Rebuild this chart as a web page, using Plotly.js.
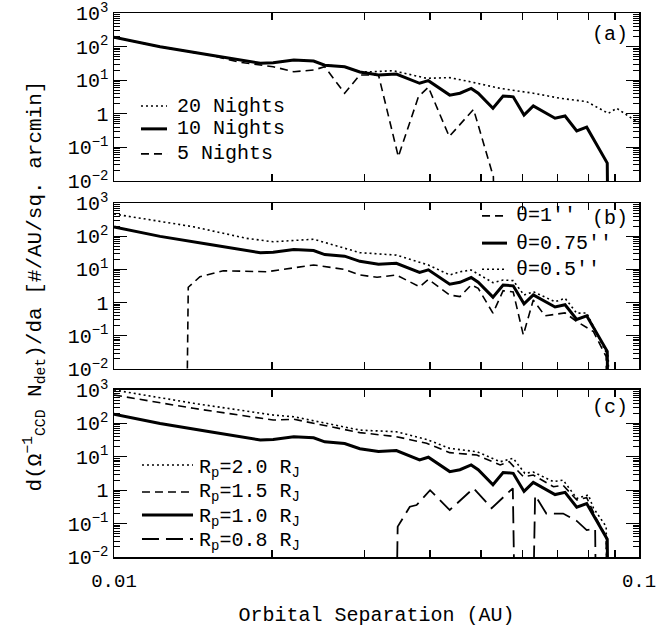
<!DOCTYPE html>
<html><head><meta charset="utf-8">
<script src="https://cdn.plot.ly/plotly-3.0.1.min.js"></script>
<style>body{margin:0;background:#fff}#chart{width:670px;height:629px}</style>
</head><body><div id="chart"></div>
<script>
// ---------- data (AU, #/AU/sq. arcmin); 0 = no detections ----------
const base10X = [0.01, 0.01224, 0.01523, 0.019, 0.0201, 0.022, 0.024, 0.0252, 0.0275, 0.0294, 0.0319, 0.0345, 0.0382, 0.0397, 0.0436, 0.0456, 0.0479, 0.0494, 0.0527, 0.0551, 0.0576, 0.0604, 0.0629, 0.0692, 0.0723, 0.0761, 0.0795, 0.087, 0.0895];
const base10Y = [189, 99, 56, 31.8, 33, 40, 37, 28, 25, 17.5, 14.3, 15.3, 8.1, 9.7, 3.6, 4.1, 5.7, 4.1, 1.46, 3.4, 3.2, 0.92, 1.71, 0.74, 0.86, 0.31, 0.40, 0.034, 0];

const n20X = [0.01, 0.01224, 0.01523, 0.019, 0.0201, 0.022, 0.024, 0.0252, 0.0275, 0.0294, 0.0312, 0.034, 0.0394, 0.0436, 0.0477, 0.0544, 0.0629, 0.0707, 0.0795, 0.0874, 0.0907, 0.0997];
const n20Y = [189, 99, 56, 31.8, 33, 40, 37, 28, 25, 17.5, 17.9, 19.2, 11.4, 11.9, 9.0, 5.7, 4.1, 2.9, 2.3, 1.03, 1.46, 0.54];

const n5X = [0.01, 0.01224, 0.01523, 0.01738, 0.019, 0.0201, 0.022, 0.024, 0.0252, 0.0275, 0.0294, 0.0319, 0.0348, 0.038, 0.0397, 0.0435, 0.0484, 0.0528, 0.0545];
const n5Y = [189, 99, 56, 34, 28.3, 25.2, 17.9, 20.1, 25.2, 4.07, 14.3, 14.3, 0.053, 3.2, 6.2, 0.21, 1.36, 0.0134, 0];

const th05X = [0.01, 0.01416, 0.0179, 0.0201, 0.024, 0.0294, 0.0345, 0.0382, 0.0397, 0.0436, 0.0456, 0.0479, 0.0527, 0.0551, 0.0576, 0.0604, 0.0629, 0.0692, 0.0723, 0.0761, 0.0795, 0.0874, 0.09];
const th05Y = [467, 193, 86, 68, 81, 32, 27, 17, 13.6, 6.8, 8.5, 9.6, 4.0, 4.8, 4.6, 1.69, 2.13, 1.06, 1.35, 0.48, 0.49, 0.0235, 0];

const th1X = [0.0134, 0.01385, 0.01458, 0.01615, 0.01954, 0.024, 0.0274, 0.0294, 0.0317, 0.0345, 0.0382, 0.0397, 0.0436, 0.0456, 0.0479, 0.0494, 0.0527, 0.0551, 0.0576, 0.0602, 0.0629, 0.0662, 0.0723, 0.0761, 0.0819, 0.0866, 0.089];
const th1Y = [0, 2.9, 6.0, 9.1, 8.5, 13.6, 10.1, 6.8, 5.8, 6.8, 3.0, 5.0, 1.69, 1.51, 3.4, 2.7, 0.48, 2.28, 2.1, 0.106, 1.2, 0.40, 0.49, 0.27, 0.133, 0.0235, 0];

const rp20X = [0.01, 0.01416, 0.0201, 0.022, 0.0294, 0.0345, 0.0394, 0.0436, 0.0491, 0.0544, 0.0576, 0.0606, 0.0629, 0.0687, 0.0717, 0.0761, 0.0801, 0.0819, 0.0866, 0.089];
const rp20Y = [1000, 400, 178, 158, 63, 56, 33, 17.9, 14.2, 7.1, 9.0, 3.2, 3.5, 1.8, 2.0, 0.57, 0.72, 0.29, 0.081, 0];

const rp15X = [0.01, 0.01416, 0.0201, 0.022, 0.0294, 0.0345, 0.0394, 0.0436, 0.0491, 0.0544, 0.0566, 0.0602, 0.0629, 0.0687, 0.0717, 0.0761, 0.0795, 0.0829, 0.0866, 0.089];
const rp15Y = [708, 283, 126, 133, 53, 40, 25.4, 13.3, 11.3, 5.7, 7.1, 2.54, 2.85, 1.27, 1.4, 0.51, 0.6, 0.144, 0.041, 0];

const rp08X = [0.0333, 0.0347, 0.0366, 0.0377, 0.04, 0.0436, 0.0484, 0.0524, 0.0575, 0.0602, 0.0634, 0.0666, 0.0717, 0.0761, 0.0795, 0.0825, 0.085];
const rp08Y = [0, 0.081, 0.32, 0.36, 1.0, 0.255, 1.14, 0.29, 1.14, 0, 0.7, 0.2, 0.2, 0.12, 0.064, 0.07, 0];

const xTickVals = [0.01, 0.02, 0.03, 0.04, 0.05, 0.06, 0.07, 0.08, 0.09, 0.1];
const xTickText = ['0.01', '', '', '', '', '', '', '', '', '0.1'];
const yTickVals = [0.01, 0.1, 1, 10, 100, 1000];
const yTickText = ['10<sup>\u22122</sup>', '10<sup>\u22121</sup>', '1', '10<sup>1</sup>', '10<sup>2</sup>', '10<sup>3</sup>'];

const legendA = ['20 Nights', '10 Nights', '5 Nights'];
const legendB = ['\u03b8=1\'\'', '\u03b8=0.75\'\'', '\u03b8=0.5\'\''];
const legendC = ['R<sub>p</sub>=2.0 R<sub>J</sub>', 'R<sub>p</sub>=1.5 R<sub>J</sub>', 'R<sub>p</sub>=1.0 R<sub>J</sub>', 'R<sub>p</sub>=0.8 R<sub>J</sub>'];
const panelLabels = ['(a)', '(b)', '(c)'];
const xTitle = 'Orbital Separation (AU)';
const yTitle = 'd(\u03a9<sup>\u22121</sup><sub>CCD</sub> N<sub>det</sub>)/da [#/AU/sq. arcmin]';

// ---------- helpers ----------
const FLOOR = 1e-20; // zero counts plotted as an unbounded drop on the log axis
const fy = a => a.map(v => v > 0 ? v : FLOOR);
const FONT = 'Liberation Mono, Courier New, monospace';
const FS = 20;
const S = {
  dot: {color: 'black', width: 1.6, dash: '2px,3px'},
  solid: {color: 'black', width: 3},
  dash: {color: 'black', width: 1.6, dash: '8px,5px'},
  longdash: {color: 'black', width: 1.8, dash: '17px,7px'}
};
function tr(x, y, name, style, xa, ya) {
  return {x: x, y: fy(y), name: name, type: 'scatter', mode: 'lines', line: style,
          xaxis: xa, yaxis: ya, showlegend: false, hoverinfo: 'skip'};
}

const traces = [
  tr(n20X, n20Y, legendA[0], S.dot, 'x', 'y'),
  tr(base10X, base10Y, legendA[1], S.solid, 'x', 'y'),
  tr(n5X, n5Y, legendA[2], S.dash, 'x', 'y'),
  tr(th1X, th1Y, legendB[0], S.dash, 'x2', 'y2'),
  tr(base10X, base10Y, legendB[1], S.solid, 'x2', 'y2'),
  tr(th05X, th05Y, legendB[2], S.dot, 'x2', 'y2'),
  tr(rp20X, rp20Y, legendC[0], S.dot, 'x3', 'y3'),
  tr(rp15X, rp15Y, legendC[1], S.dash, 'x3', 'y3'),
  tr(base10X, base10Y, legendC[2], S.solid, 'x3', 'y3'),
  tr(rp08X, rp08Y, legendC[3], S.longdash, 'x3', 'y3')
];

const minorY = [];
for (let e = -2; e < 3; e++) for (let m = 2; m <= 9; m++) minorY.push(m * Math.pow(10, e));

function xAxis(anchor, labels) {
  const ax = {type: 'log', range: [-2, -1], anchor: anchor, tickmode: 'array', tickvals: xTickVals,
    ticks: 'inside', ticklen: 7, tickwidth: 1.2,
    tickcolor: 'black', mirror: 'ticks', showline: true, linewidth: 1.5, linecolor: 'black',
    showgrid: false, zeroline: false, showticklabels: labels};
  if (labels) {
    ax.ticktext = xTickText;
    ax.ticklabelstandoff = 6;
    ax.ticklabeloverflow = 'allow';
    ax.tickfont = {family: FONT, size: FS - 1, color: 'black'};
  }
  return ax;
}
function yAxis(anchor, dom) {
  return {type: 'log', range: [-2, 3], domain: dom, anchor: anchor, tickmode: 'array', tickvals: yTickVals,
    ticktext: yTickText, ticks: 'inside', ticklen: 13, tickwidth: 1.2, tickcolor: 'black',
    minor: {tickmode: 'array', tickvals: minorY, ticks: 'inside', ticklen: 6, tickwidth: 1, tickcolor: 'black', showgrid: false},
    mirror: 'ticks', showline: true, linewidth: 1.5, linecolor: 'black', showgrid: false, zeroline: false,
    ticklabeloverflow: 'allow',
    tickfont: {family: FONT, size: FS, color: 'black'}};
}

// ---------- hand-built legends (paper coordinates) ----------
const shapes = [];
const annotations = [];
function legendRow(x0, x1, xt, yLine, style, text, yText) {
  shapes.push({type: 'line', xref: 'paper', yref: 'paper', x0: x0, x1: x1, y0: yLine, y1: yLine,
               line: {color: 'black', width: style.width, dash: style.dash || 'solid'}});
  annotations.push({text: text, xref: 'paper', yref: 'paper', x: xt, y: yText === undefined ? yLine : yText,
                    xanchor: 'left', yanchor: 'middle', showarrow: false,
                    font: {family: FONT, size: FS, color: 'black'}});
}
// panel (a)
legendRow(0.0514, 0.101, 0.117, 0.829, S.dot, legendA[0]);
legendRow(0.0514, 0.101, 0.117, 0.787, S.solid, legendA[1]);
legendRow(0.0514, 0.101, 0.117, 0.741, S.dash, legendA[2]);
// panel (b)
legendRow(0.701, 0.7486, 0.762, 0.627, S.dash, legendB[0]);
legendRow(0.701, 0.7486, 0.762, 0.577, S.solid, legendB[1]);
legendRow(0.701, 0.7486, 0.762, 0.529, S.dot, legendB[2]);
// panel (c)
legendRow(0.0533, 0.1505, 0.159, 0.1691, S.dot, legendC[0], 0.162);
legendRow(0.0533, 0.1505, 0.159, 0.1195, S.dash, legendC[1], 0.118);
legendRow(0.0533, 0.1505, 0.159, 0.0772, S.solid, legendC[2], 0.072);
legendRow(0.0533, 0.1505, 0.159, 0.0331, S.longdash, legendC[3], 0.028);

const pyShift = [-8, -2, -4];
['', '2', '3'].forEach((s, i) => {
  annotations.push({text: panelLabels[i], xref: 'x' + s + ' domain', yref: 'y' + s + ' domain', x: 1, y: 1,
    xanchor: 'right', yanchor: 'top', xshift: -9, yshift: pyShift[i], showarrow: false,
    font: {family: FONT, size: FS, color: 'black'}});
});

const layout = {
  width: 670, height: 629,
  margin: {l: 114, r: 31, t: 13, b: 72},
  paper_bgcolor: 'white', plot_bgcolor: 'white',
  font: {family: FONT, size: FS, color: 'black'},
  xaxis: xAxis('y', false),
  xaxis2: xAxis('y2', false),
  xaxis3: Object.assign(xAxis('y3', true), {title: {text: xTitle, standoff: 14, font: {family: FONT, size: FS, color: 'black'}}}),
  yaxis: yAxis('x', [0.6912, 1]),
  yaxis2: Object.assign(yAxis('x2', [0.3456, 0.6507]), {title: {text: yTitle, standoff: 20, font: {family: FONT, size: 21, color: 'black'}}}),
  yaxis3: yAxis('x3', [0, 0.307]),
  shapes: shapes,
  annotations: annotations,
  showlegend: false
};

Plotly.newPlot('chart', traces, layout, {staticPlot: true, displayModeBar: false});
</script></body></html>
